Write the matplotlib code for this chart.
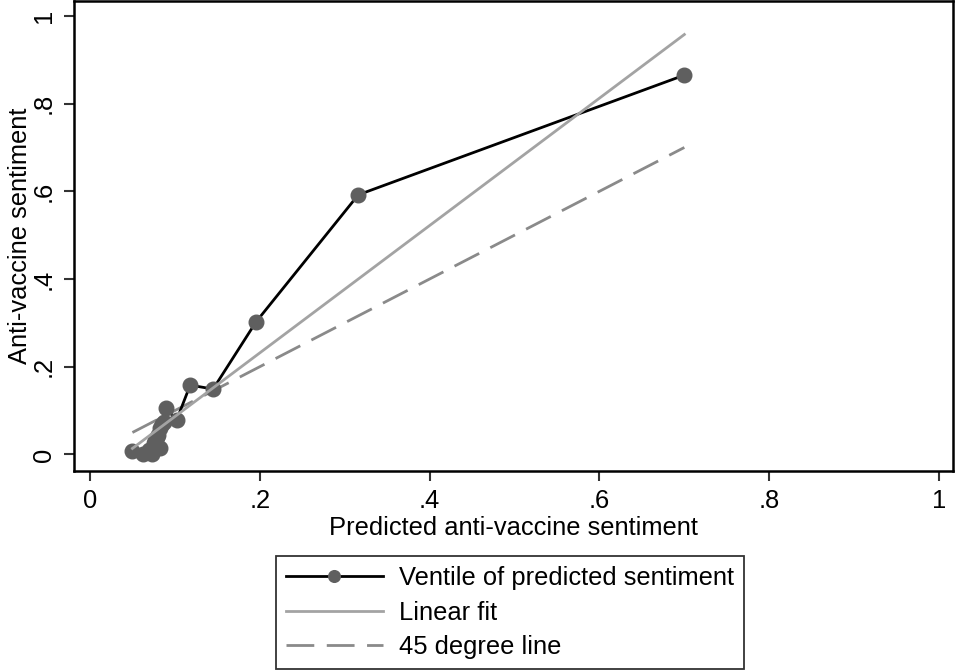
import numpy as np
import matplotlib
matplotlib.use("Agg")
import matplotlib.pyplot as plt

plt.rcParams["font.family"] = ["Liberation Sans", "DejaVu Sans"]

# Mean predicted vs. observed anti-vaccine sentiment within each ventile
pred = [0.050, 0.063, 0.070, 0.073, 0.075, 0.077, 0.078, 0.079, 0.080, 0.082,
        0.083, 0.085, 0.087, 0.0895, 0.102, 0.118, 0.145, 0.1955, 0.316, 0.700]
obs = [0.008, 0.002, 0.010, 0.002, 0.025, 0.030, 0.035, 0.040, 0.045, 0.015,
       0.060, 0.070, 0.075, 0.106, 0.078, 0.158, 0.149, 0.302, 0.592, 0.865]

x_ticks = [0, 0.2, 0.4, 0.6, 0.8, 1.0]
x_tick_labels = ["0", ".2", ".4", ".6", ".8", "1"]
y_ticks = [0, 0.2, 0.4, 0.6, 0.8, 1.0]
y_tick_labels = ["0", ".2", ".4", ".6", ".8", "1"]

px = np.array(pred)
py = np.array(obs)
order = np.argsort(px)
px, py = px[order], py[order]

slope, intercept = np.polyfit(px, py, 1)
xfit = np.array([px.min(), px.max()])

FS = 18.4

fig = plt.figure(figsize=(9.55, 6.72), dpi=100)
ax = fig.add_axes([0.0775, 0.299, 0.9205, 0.6995])

ax.plot(px, py, color="black", lw=2.0, marker="o", markersize=10.5,
        markerfacecolor="#5f5f5f", markeredgecolor="#5f5f5f",
        label="Ventile of predicted sentiment", zorder=3)
ax.plot(xfit, intercept + slope * xfit, color="#a3a3a3", lw=2.0,
        label="Linear fit", zorder=4)
ax.plot(xfit, xfit, color="#8a8a8a", lw=2.0, dashes=(10, 4.5),
        label="45 degree line", zorder=2)

ax.set_xlim(-0.0188, 1.0165)
ax.set_ylim(-0.038, 1.034)
ax.set_xticks(x_ticks)
ax.set_xticklabels(x_tick_labels)
ax.set_yticks(y_ticks)
ax.set_yticklabels(y_tick_labels, rotation=90, va="center")

for s in ax.spines.values():
    s.set_linewidth(1.8)
    s.set_color("black")

ax.tick_params(axis="both", direction="out", length=7, width=1.5,
               colors="#333333", labelcolor="black", labelsize=FS, pad=6)

ax.set_xlabel("Predicted anti-vaccine sentiment", fontsize=FS, labelpad=2)
ax.set_ylabel("Anti-vaccine sentiment", fontsize=FS, labelpad=0)

leg = fig.legend(loc="center", bbox_to_anchor=(0.534, 0.0885), fontsize=FS,
                 numpoints=1, handlelength=3.8, handletextpad=0.65,
                 labelspacing=0.42, borderpad=0.38, frameon=True,
                 fancybox=False, edgecolor="black", markerscale=0.8)
leg.get_frame().set_linewidth(1.3)

fig.savefig("out.png", dpi=100)
